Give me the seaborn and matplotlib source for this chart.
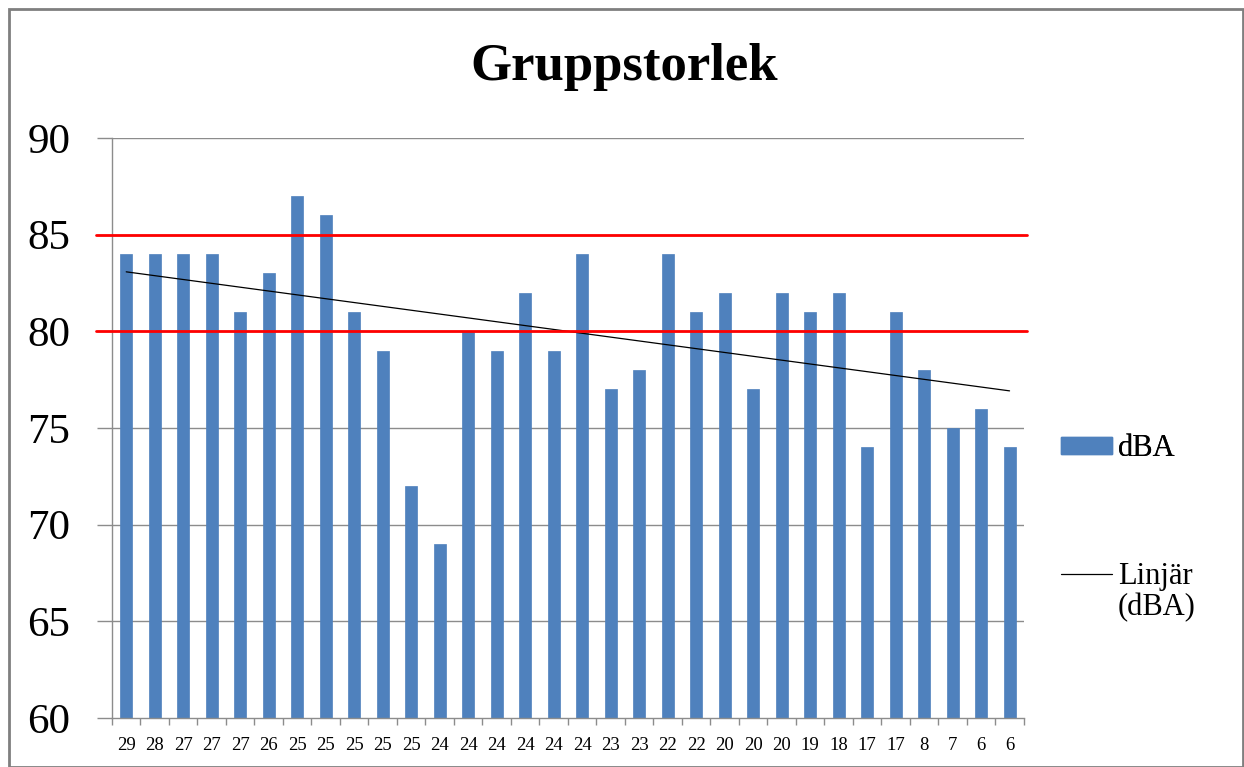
import matplotlib
matplotlib.use("Agg")
import matplotlib.pyplot as plt
import seaborn as sns
import pandas as pd
import numpy as np
from matplotlib.patches import Rectangle
from matplotlib.lines import Line2D

# Data
group_sizes = ["29", "28", "27", "27", "27", "26", "25", "25", "25", "25", "25",
               "24", "24", "24", "24", "24", "24", "23", "23", "22", "22",
               "20", "20", "20", "19", "18", "17", "17", "8", "7", "6", "6"]
dba = [84, 84, 84, 84, 81, 83, 87, 86, 81, 79, 72, 69, 80, 79, 82, 79, 84,
       77, 78, 84, 81, 82, 77, 82, 81, 82, 74, 81, 78, 75, 76, 74]
limits = [85, 80]
title = "Gruppstorlek"
legend_bar = "dBA"
legend_line = ["Linjär", "(dBA)"]

df = pd.DataFrame({"pos": np.arange(len(dba)), "dBA": dba})

sns.set_style("white")
plt.rcParams["font.family"] = ["Liberation Serif", "DejaVu Serif"]
plt.rcParams["text.color"] = "black"
plt.rcParams["xtick.labelcolor"] = "black"
plt.rcParams["ytick.labelcolor"] = "black"

fig = plt.figure(figsize=(12.44, 7.67), dpi=100)
ax = fig.add_axes([0.090, 0.064, 0.733, 0.756])

grid_c = "#8c8c8c"
bar_c = "#4F81BD"
for v in range(65, 95, 5):
    ax.axhline(v, color=grid_c, lw=1.0, zorder=0)

sns.barplot(data=df, x="pos", y="dBA", color=bar_c, width=0.42,
            saturation=1, ax=ax, zorder=2, edgecolor=bar_c, linewidth=0.5)

sns.regplot(data=df, x="pos", y="dBA", scatter=False, ci=None, truncate=True,
            ax=ax, line_kws={"color": "black", "lw": 0.9, "zorder": 4})

for v in limits:
    ax.axhline(v, xmin=-0.017, xmax=1.003, color="#FF0000", lw=2.0, zorder=5, clip_on=False)

if ax.get_legend() is not None:
    ax.get_legend().remove()

ax.set_ylim(60, 90)
ax.set_xlim(-0.5, len(dba) - 0.5)
ax.set_yticks(range(60, 95, 5))
ax.set_xticks(np.arange(len(dba)))
ax.set_xticklabels(group_sizes)
ax.set_xticks(np.arange(-0.5, len(dba), 1.0), minor=True)
ax.set_xlabel("")
ax.set_ylabel("")

ax.tick_params(axis="y", which="major", direction="out", length=11, width=1,
               color=grid_c, labelsize=31, pad=19, left=True)
ax.tick_params(axis="x", which="major", length=0, labelsize=13.5, pad=14)
ax.tick_params(axis="x", which="minor", direction="out", length=5, width=1,
               color=grid_c, bottom=True)

for s in ["top", "right"]:
    ax.spines[s].set_visible(False)
for s in ["left", "bottom"]:
    ax.spines[s].set_color(grid_c)
    ax.spines[s].set_linewidth(1.0)
    ax.spines[s].set_zorder(3)

fig.text(0.502, 0.912, title, ha="center", va="center", fontsize=38,
         fontweight="bold", color="black")

leg_kw = dict(loc="center left", frameon=False, fontsize=22, handlelength=1.65,
              handleheight=0.5, handletextpad=0.2, borderaxespad=0, borderpad=0)
leg1 = fig.legend([Rectangle((0, 0), 1, 1, facecolor=bar_c, edgecolor=bar_c)],
                  [legend_bar], bbox_to_anchor=(0.853, 0.415), **leg_kw)
fig.add_artist(leg1)
leg2 = fig.legend([Line2D([0], [0], color="black", lw=0.9),
                   Line2D([0], [0], color="none", lw=0)],
                  legend_line, bbox_to_anchor=(0.853, 0.228), labelspacing=0.05,
                  **leg_kw)

fig.patches.append(Rectangle((0.007, 0.0), 0.992, 0.988, transform=fig.transFigure,
                             fill=False, edgecolor="#7f7f7f", lw=2.0))

fig.savefig("out.png", dpi=100)
